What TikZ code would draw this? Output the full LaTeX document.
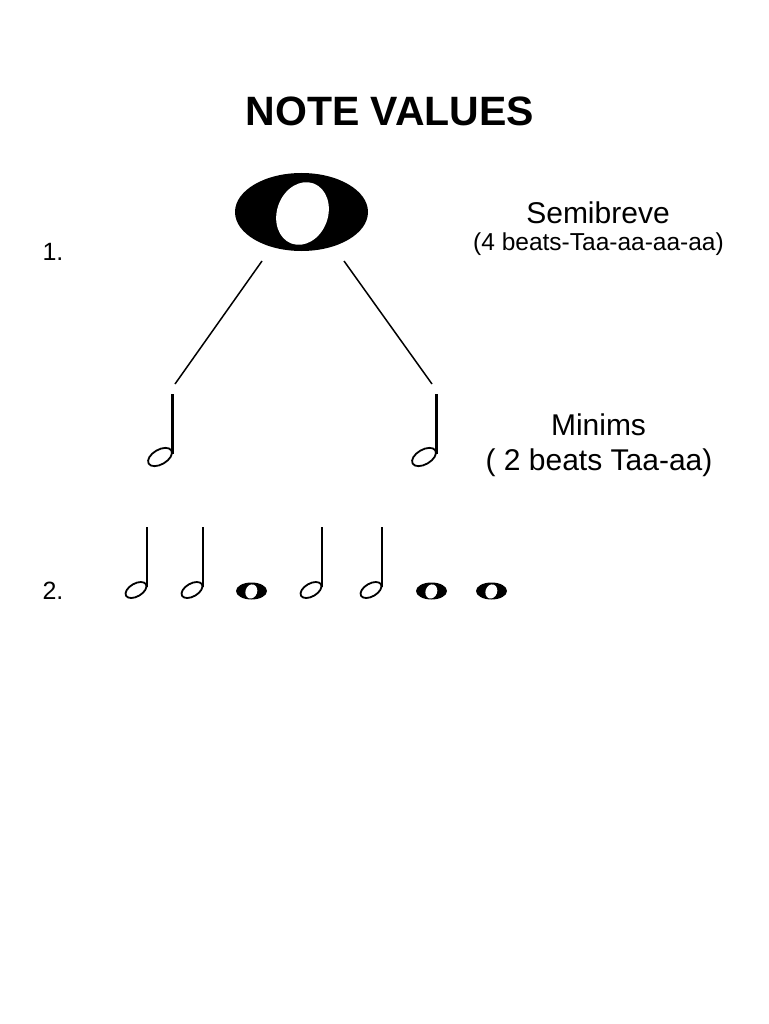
\documentclass[tikz,border=0pt]{standalone}
\usepackage{fontspec}
\setmainfont{Liberation Sans}
\begin{document}
\begin{tikzpicture}[x=1pt,y=-1pt,
  lbl/.style={inner sep=0pt, anchor=base, font=\fontsize{30}{36}\selectfont},
  sublbl/.style={inner sep=0pt, anchor=base, font=\fontsize{24.5}{30}\selectfont},
  numlbl/.style={inner sep=0pt, anchor=base, font=\fontsize{25}{30}\selectfont},
  conn/.style={line width=1.5pt, black},
  stemline/.style={line width=2.4pt, black},
  headline/.style={line width=1.8pt, black},
  pics/minim/.style={code={
    \draw[headline, rotate=30] (0,0) ellipse [x radius=12.5*#1, y radius=7*#1];
    \draw[stemline] (11.8*#1,-3) -- (11.8*#1,-63);
  }},
  pics/semismall/.style={code={
    \fill[black] (0,0) ellipse [x radius=15.5, y radius=8.5];
    \fill[white, rotate=-20] (0,0.5) ellipse [x radius=5.8, y radius=7.2];
  }}
]
\useasboundingbox (0,0) rectangle (768,1024);
\fill[white] (0,0) rectangle (768,1024);

% title
\node[inner sep=0pt, anchor=base, font=\bfseries\fontsize{41}{48}\selectfont] (title) at (390,126) {NOTE VALUES};

% numbers
\node[numlbl] (n1) at (53,260) {1.};
\node[numlbl] (n2) at (53,599) {2.};

% big semibreve
\fill[black] (301.5,212) ellipse [x radius=66.5, y radius=39];
\fill[white] [rotate around={-20:(302.5,213.5)}] (302.5,213.5) ellipse [x radius=25.5, y radius=32];
\coordinate (semi) at (301.5,212);

% labels
\node[lbl] (semilbl) at (598,223) {Semibreve};
\node[sublbl] (semisub) at (598.5,251) {(4 beats-Taa-aa-aa-aa)};
\node[lbl] (minlbl) at (598.5,435) {Minims};
\node[lbl] (minsub) at (599,470) {( 2 beats Taa-aa)};

% minims row 1
\pic (m1) at (160,457) {minim=1.05};
\pic (m2) at (424,457) {minim=1.05};

% connectors
\coordinate (s1) at (262,261);
\coordinate (s2) at (344,261);
\coordinate (e1) at (175,384);
\coordinate (e2) at (432,384);
\draw[conn] (s1) -- (e1);
\draw[conn] (s2) -- (e2);

% row 2
\pic (r1) at (136,590) {minim=0.92};
\pic (r2) at (192,590) {minim=0.92};
\pic (r3) at (251.5,591) {semismall};
\pic (r4) at (311,590) {minim=0.92};
\pic (r5) at (371,590) {minim=0.92};
\pic (r6) at (431.5,591) {semismall};
\pic (r7) at (491.5,591) {semismall};
\end{tikzpicture}
\end{document}
